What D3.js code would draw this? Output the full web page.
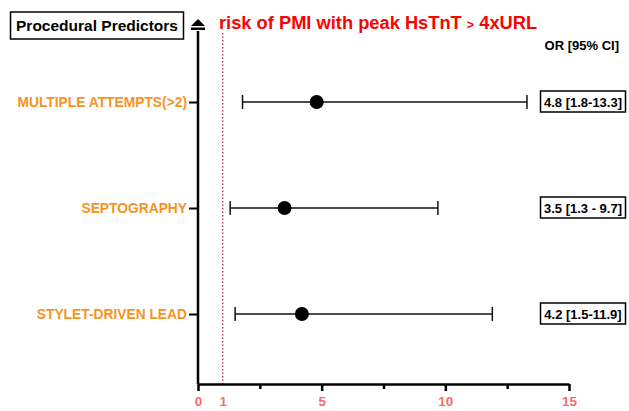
<!DOCTYPE html>
<html>
<head>
	<title>Procedural Predictors</title>
	<style>
	body {
		margin: 0;
		background: #fff;
		font-family: "Liberation Sans", Arial, Helvetica, sans-serif;
	}
	</style>
</head>
<body>
	<div id="vis"></div>
	<script src="https://d3js.org/d3.v7.min.js"></script>
	<script>
		// data
		var predictors = ["MULTIPLE ATTEMPTS(>2)", "SEPTOGRAPHY", "STYLET-DRIVEN LEAD"];
		var orValues = [4.8, 3.5, 4.2];
		var ciLow = [1.8, 1.3, 1.5];
		var ciHigh = [13.3, 9.7, 11.9];
		var orLabels = ["4.8 [1.8-13.3]", "3.5 [1.3 - 9.7]", "4.2 [1.5-11.9]"];
		var majorTicks = [0, 5, 10, 15];
		var minorTicks = [2.5, 7.5, 12.5];
		var refValue = 1;

		var width = 629, height = 411;

		var svg = d3.select("#vis").append("svg")
			.attr("width", width)
			.attr("height", height);

		var x = d3.scaleLinear().domain([0, 15]).range([198, 569]);
		var y = d3.scalePoint().domain(predictors).range([102, 314]);
		var axisY = 384, topY = 31;

		var rows = predictors.map(function(name, i) {
			return {name: name, or: orValues[i], lo: ciLow[i], hi: ciHigh[i], label: orLabels[i]};
		});

		// reference line at OR = 1
		svg.append("line")
			.attr("x1", x(refValue)).attr("x2", x(refValue))
			.attr("y1", 33).attr("y2", axisY)
			.attr("stroke", "#b0285a")
			.attr("stroke-width", 1.3)
			.attr("stroke-dasharray", "1.5,2");

		// x axis
		var xAxis = svg.append("g")
			.attr("transform", "translate(0," + axisY + ")")
			.call(d3.axisBottom(x)
				.tickValues([0, 1].concat(minorTicks, majorTicks.slice(1)).sort(d3.ascending))
				.tickSize(7)
				.tickSizeOuter(0)
				.tickFormat(function(d) { return minorTicks.indexOf(d) >= 0 ? "" : d; }));
		xAxis.select(".domain").attr("stroke-width", 2.5);
		xAxis.selectAll(".tick line")
			.attr("stroke-width", 2.5)
			.attr("y2", function(d) { return minorTicks.indexOf(d) >= 0 ? 5 : 7; })
			.style("display", function(d) { return d === refValue ? "none" : null; });
		xAxis.selectAll(".tick text")
			.attr("y", 12)
			.style("font-family", "'Liberation Sans', Arial, sans-serif")
			.style("font-size", "13.5px")
			.style("font-weight", "bold")
			.attr("fill", "#ff6b6b");

		// y axis
		var yAxis = svg.append("g")
			.attr("transform", "translate(" + x(0) + ",0)")
			.call(d3.axisLeft(y).tickSize(9).tickSizeOuter(0).tickPadding(2));
		yAxis.select(".domain")
			.attr("d", "M0," + topY + "V" + axisY)
			.attr("stroke-width", 2.5);
		yAxis.selectAll(".tick line").attr("stroke-width", 2);
		yAxis.selectAll(".tick text")
			.style("font-family", "'Liberation Sans', Arial, sans-serif")
			.style("font-size", "13.8px")
			.style("font-weight", "bold")
			.attr("fill", "#f7931e");

		// arrow on top of the y axis
		svg.append("path")
			.attr("d", "M" + (x(0) - 7) + ",26L" + x(0) + ",19L" + (x(0) + 7) + ",26Z")
			.attr("fill", "#000");
		svg.append("rect")
			.attr("x", x(0) - 7).attr("y", 27.5)
			.attr("width", 14).attr("height", 2.5)
			.attr("fill", "#000");

		// error bars
		var g = svg.selectAll(".row")
			.data(rows)
			.enter().append("g")
			.attr("class", "row");

		g.append("line")
			.attr("x1", function(d) { return x(d.lo); })
			.attr("x2", function(d) { return x(d.hi); })
			.attr("y1", function(d) { return y(d.name); })
			.attr("y2", function(d) { return y(d.name); })
			.attr("stroke", "#111").attr("stroke-width", 1.5);
		["lo", "hi"].forEach(function(k) {
			g.append("line")
				.attr("x1", function(d) { return x(d[k]); })
				.attr("x2", function(d) { return x(d[k]); })
				.attr("y1", function(d) { return y(d.name) - 7; })
				.attr("y2", function(d) { return y(d.name) + 7; })
				.attr("stroke", "#111").attr("stroke-width", 1.5);
		});
		g.append("circle")
			.attr("cx", function(d) { return x(d.or); })
			.attr("cy", function(d) { return y(d.name); })
			.attr("r", 7)
			.attr("fill", "#000");

		// OR labels in boxes
		g.append("rect")
			.attr("x", 540.5)
			.attr("y", function(d) { return y(d.name) - 11; })
			.attr("width", 85).attr("height", 21)
			.attr("fill", "#fff")
			.attr("stroke", "#000").attr("stroke-width", 1.5);
		g.append("text")
			.attr("x", 583)
			.attr("y", function(d) { return y(d.name) + 4.5; })
			.attr("text-anchor", "middle")
			.style("font-size", "13px")
			.style("font-weight", "bold")
			.text(function(d) { return d.label; });

		svg.append("text")
			.attr("x", 619).attr("y", 50)
			.attr("text-anchor", "end")
			.style("font-size", "13px")
			.style("font-weight", "bold")
			.text("OR [95% CI]");

		// header box
		svg.append("rect")
			.attr("x", 10.5).attr("y", 12)
			.attr("width", 173).attr("height", 27)
			.attr("fill", "#fff")
			.attr("stroke", "#000").attr("stroke-width", 1.5);
		svg.append("text")
			.attr("x", 97).attr("y", 31)
			.attr("text-anchor", "middle")
			.style("font-size", "15.5px")
			.style("font-weight", "bold")
			.text("Procedural Predictors");

		// title
		var title = svg.append("text")
			.attr("x", 219).attr("y", 29)
			.attr("fill", "#ff0000")
			.style("font-size", "18.3px")
			.style("font-weight", "bold");
		title.append("tspan").text("risk of PMI with peak HsTnT ");
		title.append("tspan").style("font-size", "12.5px").text(">");
		title.append("tspan").text(" 4xURL");
	</script>
</body>
</html>
